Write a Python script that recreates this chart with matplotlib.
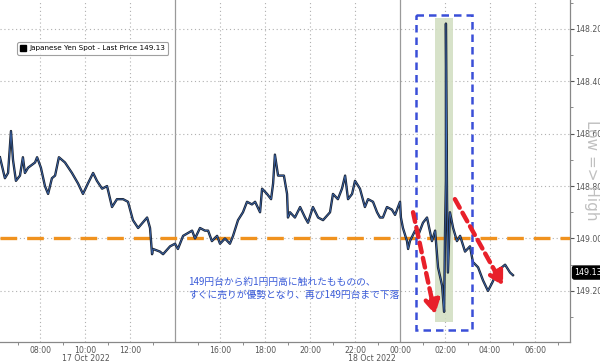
import matplotlib.pyplot as plt
from matplotlib.lines import Line2D
from matplotlib.patches import Rectangle

# hours counted from 17 Oct 2022 00:00 (24 = 18 Oct 00:00)
hours = [6.22, 6.44, 6.58, 6.71, 6.80, 6.93, 7.11, 7.24, 7.33, 7.47, 7.78, 7.87,
         8.04, 8.22, 8.36, 8.53, 8.67, 8.84, 9.11, 9.42, 9.69, 9.91, 10.13, 10.36,
         10.53, 10.76, 10.98, 11.20, 11.42, 11.69, 11.91, 12.13, 12.36, 12.76, 12.89,
         12.98, 13.02, 13.33, 13.47, 13.78, 14.00, 14.13, 14.36, 14.76, 14.89, 15.11,
         15.33, 15.47, 15.64, 15.87, 16.00, 16.22, 16.44, 16.58, 16.80, 17.02, 17.20,
         17.42, 17.56, 17.78, 17.87, 18.09, 18.27, 18.36, 18.44, 18.58, 18.76, 18.84,
         18.98, 19.02, 19.11, 19.33, 19.56, 19.78, 19.91, 20.13, 20.36, 20.58, 20.89,
         21.02, 21.24, 21.42, 21.56, 21.69, 21.87, 22.00, 22.22, 22.44, 22.58, 22.80,
         22.98, 23.11, 23.24, 23.42, 23.64, 23.78, 24.00, 24.04, 24.13, 24.31, 24.36,
         24.44, 24.67, 24.80, 25.02, 25.20, 25.42, 25.56, 25.69, 25.87, 25.96, 26.00,
         26.04, 26.04, 26.09, 26.13, 26.22, 26.36, 26.53, 26.67, 26.89, 27.11, 27.24,
         27.47, 27.69, 27.91, 28.09, 28.31, 28.53, 28.67, 28.89, 29.02]
price = [148.69, 148.77, 148.75, 148.59, 148.70, 148.78, 148.76, 148.69, 148.75, 148.73, 148.71, 148.69,
         148.73, 148.80, 148.83, 148.77, 148.76, 148.69, 148.71, 148.75, 148.79, 148.83, 148.79, 148.75,
         148.78, 148.81, 148.80, 148.88, 148.85, 148.85, 148.86, 148.93, 148.96, 148.92, 148.96,
         149.06, 149.04, 149.05, 149.06, 149.03, 149.02, 149.04, 148.99, 148.97, 149.00, 148.96,
         148.97, 148.97, 149.01, 148.99, 149.02, 149.00, 149.02, 148.99, 148.93, 148.90, 148.86,
         148.87, 148.86, 148.90, 148.81, 148.83, 148.85, 148.79, 148.68, 148.76, 148.76, 148.76,
         148.83, 148.92, 148.90, 148.92, 148.88, 148.92, 148.94, 148.88, 148.92, 148.93, 148.90,
         148.83, 148.85, 148.81, 148.76, 148.85, 148.83, 148.78, 148.81, 148.88, 148.85, 148.86,
         148.90, 148.92, 148.92, 148.88, 148.89, 148.91, 148.86, 148.92, 148.96, 149.01, 149.04,
         149.01, 148.97, 148.99, 148.94, 148.92, 149.01, 148.97, 149.11, 149.18, 149.28, 148.98,
         148.78, 148.18, 148.85, 149.13, 148.90, 148.96, 149.01, 148.99, 149.05, 149.03, 149.09,
         149.11, 149.16, 149.20, 149.17, 149.13, 149.11, 149.10, 149.13, 149.14]

last_price = 149.13
ref_level = 149.00
tick_hours = [8, 10, 12, 16, 18, 20, 22, 24, 26, 28, 30]
tick_labels = ['08:00', '10:00', '12:00', '16:00', '18:00', '20:00',
               '22:00', '00:00', '02:00', '04:00', '06:00']
y_ticks = [148.20, 148.40, 148.60, 148.80, 149.00, 149.20]
note = '149円台から約1円円高に触れたもものの、\nすぐに売りが優勢となり、再び149円台まで下落'

fig = plt.figure(figsize=(6, 3.63), dpi=100)
ax = fig.add_axes([0, 1 - 342 / 363, 570 / 600, 342 / 363])

# grid
for h in range(8, 32, 2):
    if h in (14, 24):
        ax.axvline(h, color='#9a9a9a', lw=0.9, zorder=1)
    else:
        ax.axvline(h, color='#b0b0b0', lw=0.8, ls=(0, (1, 2.5)), zorder=1)
for y in y_ticks:
    ax.axhline(y, color='#b0b0b0', lw=0.8, ls=(0, (1, 2.5)), zorder=1)

# highlight areas
ax.add_patch(Rectangle((25.56, 148.16), 0.80, 1.157, color='#d3dfc3', alpha=0.9, lw=0, zorder=2))
ax.add_patch(Rectangle((24.71, 148.146), 2.49, 1.203, fill=False, ec='#3a4fd8',
                       lw=1.8, ls=(0, (3, 2)), zorder=5))

ax.axhline(ref_level, color='#f0921e', lw=2.4, ls=(0, (5, 3)), zorder=3)

ax.plot(hours, price, color='#1b2330', lw=1.7, zorder=4)
ax.plot(hours, price, color='#3f6fc0', lw=0.5, zorder=4)

# red arrows
for (x0, y0), (x1, y1) in [((24.58, 148.90), (25.56, 149.29)), ((26.44, 148.85), (28.58, 149.18))]:
    ax.annotate('', xy=(x1, y1), xytext=(x0, y0),
                arrowprops=dict(arrowstyle='-|>,head_width=0.45,head_length=0.8', color='#e8202a',
                                lw=3.2, ls=(0, (2.2, 1.3)), shrinkA=0, shrinkB=0), zorder=6)

ax.text(14.58, 149.145, note, color='#3a5bd8', fontsize=7, linespacing=1.45,
        family=['Noto Sans CJK JP', 'DejaVu Sans'], va='top', ha='left', zorder=6)

ax.set_xlim(6.222, 31.555)
ax.set_ylim(149.395, 148.09)

ax.set_xticks(tick_hours)
ax.set_xticklabels(tick_labels)
ax.set_xticks(list(range(7, 32, 2)), minor=True)
ax.yaxis.tick_right()
ax.set_yticks(y_ticks)
ax.set_yticklabels(['%.2f' % v for v in y_ticks])
ax.set_yticks([148.1, 148.3, 148.5, 148.7, 148.9, 149.1, 149.3], minor=True)
ax.tick_params(axis='both', which='major', labelsize=5.6, colors='#555555', length=3, width=0.8)
ax.tick_params(axis='both', which='minor', length=2, colors='#777777')
ax.tick_params(axis='x', which='major', length=0, pad=3)
ax.tick_params(axis='y', pad=1)

for s in ['left', 'top']:
    ax.spines[s].set_visible(False)
for s in ['right', 'bottom']:
    ax.spines[s].set_color('#888888')
    ax.spines[s].set_linewidth(0.9)

fig.text(86 / 600, 1 - 358.5 / 363, '17 Oct 2022', fontsize=5.6, color='#555555', ha='center', va='center')
fig.text(372 / 600, 1 - 358.5 / 363, '18 Oct 2022', fontsize=5.6, color='#555555', ha='center', va='center')

# last price tag and axis caption
ax.text(1.008, last_price, '149.13', transform=ax.get_yaxis_transform(), fontsize=5.8,
        color='white', va='center', ha='left', zorder=7,
        bbox=dict(boxstyle='round,pad=0.25', fc='black', ec='black'))
fig.text(592 / 600, 1 - 170 / 363, 'Low => High', rotation=-90, fontsize=11,
         color='#c0c0c0', ha='center', va='center')

handle = Line2D([], [], color='black', marker='s', ls='none', markersize=5)
leg = ax.legend([handle], ['Japanese Yen Spot - Last Price 149.13'], loc='upper left',
                bbox_to_anchor=(0.03, 0.877), borderaxespad=0, fontsize=5.2,
                handlelength=0.8, handletextpad=0.4, borderpad=0.45, frameon=True, fancybox=True)
leg.get_frame().set_edgecolor('#888888')
leg.get_frame().set_linewidth(0.8)

fig.savefig('out.png', dpi=100)
